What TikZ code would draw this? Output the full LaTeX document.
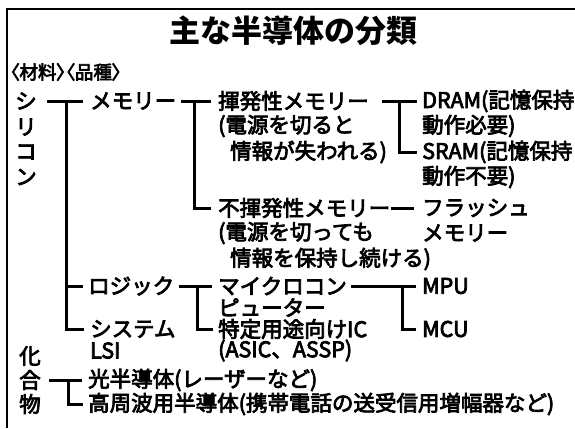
\documentclass[tikz,border=0pt]{standalone}
\usepackage{fontspec}
\setmainfont[FakeBold=3.5]{Noto Sans CJK JP}
\newfontfamily\hdrfont[RawFeature=+palt,FakeBold=3.5]{Noto Sans CJK JP}
\newfontfamily\titlefont{Noto Sans CJK JP}
\usetikzlibrary{calc}
\begin{document}
\begin{tikzpicture}[x=1pt,y=-1pt,
  txt/.style={anchor=west,inner sep=0pt,font=\fontsize{21.5}{22}\selectfont},
  vch/.style={anchor=center,inner sep=0pt,font=\fontsize{21.5}{22}\selectfont},
  conn/.style={line width=3pt,line cap=butt},
  frameline/.style={line width=2pt}]
\useasboundingbox (0,0) rectangle (575,428);
\fill[white] (0,0) rectangle (575,428);
% frame
\coordinate (fTL) at (7,9);
\coordinate (fTR) at (575,9);
\coordinate (fBL) at (7,428);
\draw[frameline] (fBL) -- (fTL) -- (fTR);
% title and headers
\node[inner sep=0pt,font=\titlefont\fontsize{31}{31}\selectfont\bfseries] (title) at (293,31) {主な半導体の分類};
\node[txt,font=\hdrfont\fontsize{18.5}{19}\selectfont] (hdr) at (10,72) {〈材料〉〈品種〉};
% material: silicon
\node[vch] (si1) at (26,101) {シ};
\node[vch] (si2) at (26,127) {リ};
\node[vch] (si3) at (26,152) {コ};
\node[vch] (si4) at (26,177) {ン};
% compound
\node[vch] (ka1) at (30,356) {化};
\node[vch] (ka2) at (30,380) {合};
\node[vch] (ka3) at (30,404) {物};
% kinds
\node[txt] (mem) at (90,101) {メモリー};
\node[txt] (logic) at (88,286) {ロジック};
\node[txt] (sys) at (90,329) {システム};
\node[txt] (lsi) at (90,350.5) {LSI};
\node[txt] (hik) at (88,380) {光半導体(レーザーなど)};
\node[txt] (kos) at (88,404) {高周波用半導体(携帯電話の送受信用増幅器など)};
% memory kinds
\node[txt] (kih) at (218,101) {揮発性メモリー};
\node[txt] (kih2) at (218,126) {(電源を切ると};
\node[txt] (kih3) at (230,152) {情報が失われる)};
\node[txt] (fkh) at (218,208) {不揮発性メモリー};
\node[txt] (fkh2) at (218,233) {(電源を切っても};
\node[txt] (fkh3) at (230,259) {情報を保持し続ける)};
\node[txt] (dram) at (422,101) {DRAM(記憶保持};
\node[txt] (dram2) at (422,126) {動作必要)};
\node[txt] (sram) at (422,152) {SRAM(記憶保持};
\node[txt] (sram2) at (422,177) {動作不要)};
\node[txt] (flash) at (422,208) {フラッシュ};
\node[txt] (flash2) at (422,233) {メモリー};
% logic kinds
\node[txt] (mc1) at (218,286) {マイクロコン};
\node[txt] (mc2) at (218,307.5) {ピューター};
\node[txt] (tok) at (218,329) {特定用途向けIC};
\node[txt] (asic) at (218,350.5) {(ASIC、ASSP)};
\node[txt] (mpu) at (422,286) {MPU};
\node[txt] (mcu) at (422,329) {MCU};
% connectors
% silicon
\draw[conn] ([xshift=10pt]si1.east) -- ([xshift=-7pt]mem.west);
\coordinate (J1) at (66,101);
\draw[conn] (J1) |- ([xshift=-6pt]sys.west);
\draw[conn] (J1 |- logic.west) -- ([xshift=-5pt]logic.west);
% memory
\draw[conn] ([xshift=5pt]mem.east) -- ([xshift=-7pt]kih.west);
\coordinate (J2) at (194,101);
\draw[conn] (J2) |- ([xshift=-7pt]fkh.west);
% volatile
\draw[conn] ([xshift=13pt]kih.east) -- ([xshift=-5pt]dram.west);
\coordinate (J3) at (399,101);
\draw[conn] (J3) |- ([xshift=-5pt]sram.west);
% non-volatile
\draw[conn] ([xshift=1pt]fkh.east) -- ([xshift=-8pt]flash.west);
% logic
\draw[conn] ([xshift=5pt]logic.east) -- ([xshift=-6pt]mc1.west);
\coordinate (J5) at (197,286);
\draw[conn] (J5) |- ([xshift=-5pt]tok.west);
% microcomputer
\draw[conn] ([xshift=4pt]mc1.east) -- ([xshift=-6pt]mpu.west);
\coordinate (J6) at (402,286);
\draw[conn] (J6) |- ([xshift=-6pt]mcu.west);
% compound
\draw[conn] ([xshift=8pt]ka2.east) -- ([xshift=-6pt]hik.west);
\coordinate (J7) at (68,380);
\draw[conn] (J7) |- ([xshift=-5pt]kos.west);
\end{tikzpicture}
\end{document}
